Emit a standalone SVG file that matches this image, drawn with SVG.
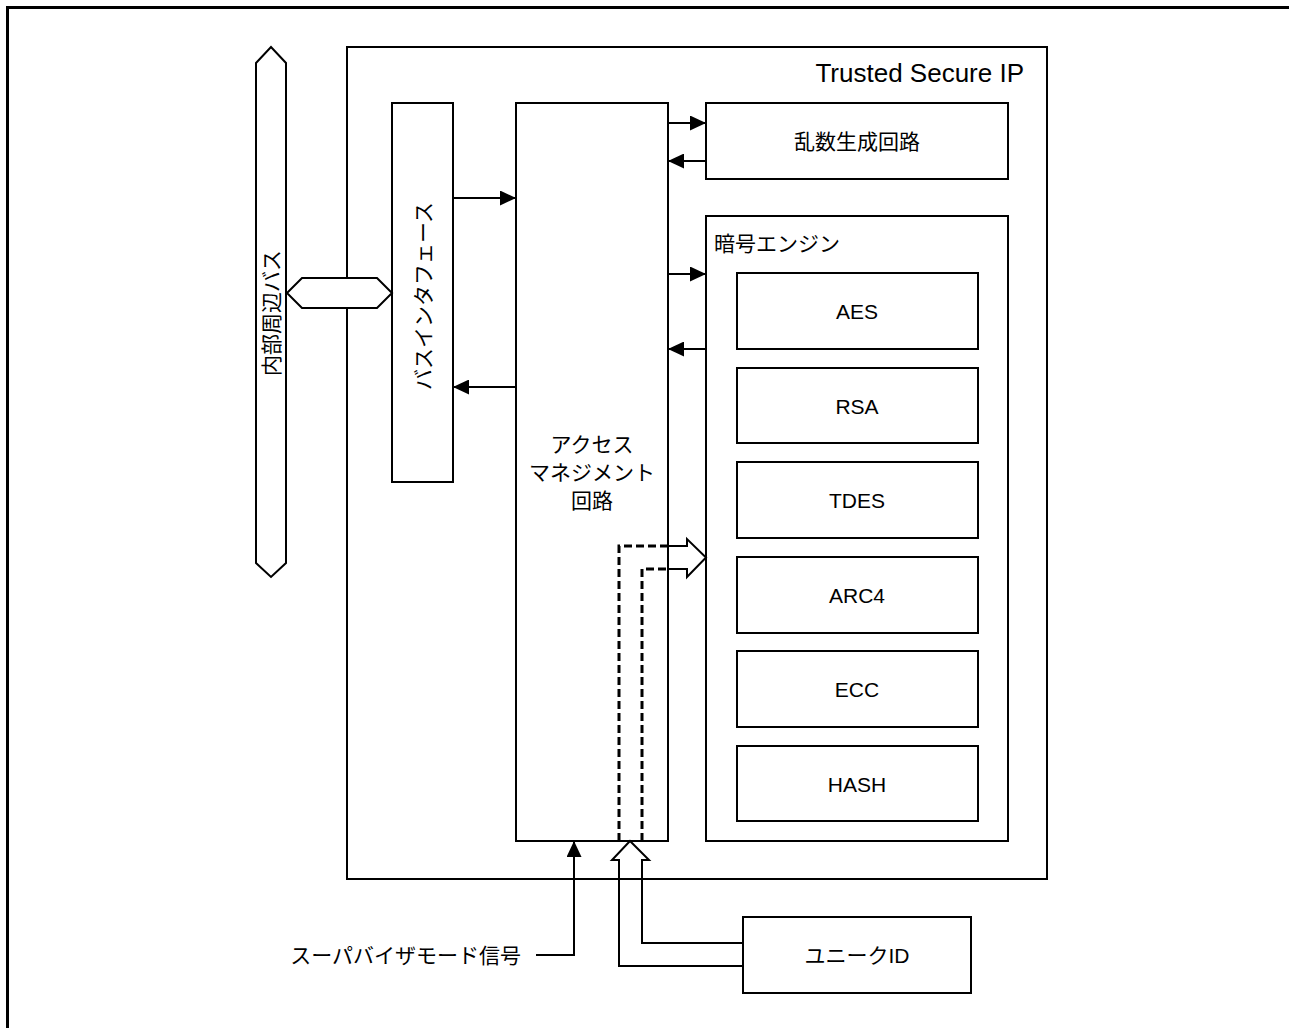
<svg xmlns="http://www.w3.org/2000/svg" width="1289" height="1028" viewBox="0 0 1289 1028">
<style>
.box{fill:#fff;stroke:#000;stroke-width:2}
.ln{fill:none;stroke:#000;stroke-width:2}
.dash{fill:none;stroke:#000;stroke-width:3;stroke-dasharray:8 4}
.t{font-family:"Liberation Sans","Noto Sans CJK JP",Arial,sans-serif;font-size:21px;fill:#000}
.c{text-anchor:middle;dominant-baseline:central}
</style>
<defs>
<marker id="ah" markerWidth="16" markerHeight="15" refX="16" refY="7.5" orient="auto" markerUnits="userSpaceOnUse">
<path d="M0,0 L16,7.5 L0,15 Z" fill="#000"/>
</marker>
</defs>
<rect width="1289" height="1028" fill="#fff"/>
<path d="M7.5,1028 V7.5 H1289" fill="none" stroke="#000" stroke-width="3"/>

<g id="ip">
<rect class="box" x="347" y="47" width="700" height="832"/>
<text class="t" x="1024" y="82" text-anchor="end" style="font-size:26px">Trusted Secure IP</text>
</g>

<g id="bus">
<polygon class="box" points="256,63 271,47 286,63 286,563 271,577 256,563"/>
<text class="t c" x="271" y="313" transform="rotate(-90 271 313)">内部周辺バス</text>
</g>

<g id="busif">
<rect class="box" x="392" y="103" width="61" height="379"/>
<text class="t c" x="423" y="296" transform="rotate(-90 423 296)">バスインタフェース</text>
</g>

<g id="connector-hex">
<polygon class="box" points="287,293 302,278 377,278 392,293 377,308 302,308"/>
</g>

<g id="access">
<rect class="box" x="516" y="103" width="152" height="738"/>
<text class="t c" x="592" y="444">アクセス</text>
<text class="t c" x="592" y="472">マネジメント</text>
<text class="t c" x="592" y="500">回路</text>
</g>

<g id="rng">
<rect class="box" x="706" y="103" width="302" height="76"/>
<text class="t c" x="857" y="141">乱数生成回路</text>
</g>

<g id="crypto">
<rect class="box" x="706" y="216" width="302" height="625"/>
<text class="t" x="714" y="243" dominant-baseline="central">暗号エンジン</text>
</g>

<g id="aes"><rect class="box" x="737" y="273" width="241" height="76"/><text class="t c" x="857" y="311">AES</text></g>
<g id="rsa"><rect class="box" x="737" y="368" width="241" height="75"/><text class="t c" x="857" y="406">RSA</text></g>
<g id="tdes"><rect class="box" x="737" y="462" width="241" height="76"/><text class="t c" x="857" y="500">TDES</text></g>
<g id="arc4"><rect class="box" x="737" y="557" width="241" height="76"/><text class="t c" x="857" y="595">ARC4</text></g>
<g id="ecc"><rect class="box" x="737" y="651" width="241" height="76"/><text class="t c" x="857" y="689">ECC</text></g>
<g id="hash"><rect class="box" x="737" y="746" width="241" height="75"/><text class="t c" x="857" y="784">HASH</text></g>

<g id="uid">
<rect class="box" x="743" y="917" width="228" height="76"/>
<text class="t c" x="857" y="955">ユニークID</text>
</g>

<g id="supervisor-label">
<text class="t" x="521" y="955" text-anchor="end" dominant-baseline="central">スーパバイザモード信号</text>
</g>

<g id="connectors">
<line class="ln" x1="453" y1="198" x2="516" y2="198" marker-end="url(#ah)"/>
<line class="ln" x1="516" y1="387" x2="453" y2="387" marker-end="url(#ah)"/>
<line class="ln" x1="668" y1="123" x2="706" y2="123" marker-end="url(#ah)"/>
<line class="ln" x1="706" y1="161" x2="668" y2="161" marker-end="url(#ah)"/>
<line class="ln" x1="668" y1="274" x2="706" y2="274" marker-end="url(#ah)"/>
<line class="ln" x1="706" y1="349" x2="668" y2="349" marker-end="url(#ah)"/>
<path class="ln" d="M536,955 H574 V841" marker-end="url(#ah)"/>
<path class="dash" d="M619,841 V546 H668"/>
<path class="dash" d="M642,841 V569 H668"/>
<path class="ln" d="M668,546 H687 V539 L706,557.5 L687,577 V569 H668"/>
<path class="ln" d="M743,966 H619 V860 H612 L630,841 L649,860 H642 V943 H743"/>
</g>
</svg>
